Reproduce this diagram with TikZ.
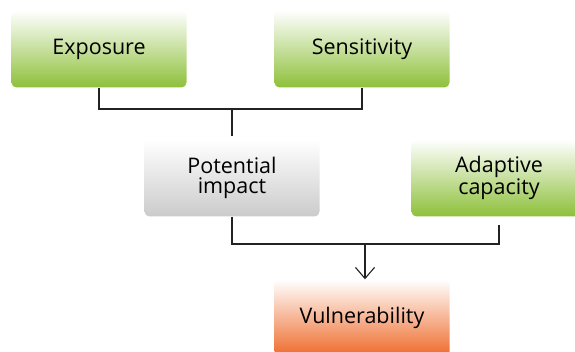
\documentclass[tikz,border=0pt]{standalone}
\usepackage{fontspec}
\setmainfont{Open Sans}
\usepackage{tikz}
\usetikzlibrary{arrows.meta, positioning}

\definecolor{leafgreen}{HTML}{8DC03A}
\definecolor{mistgray}{HTML}{CBCBCB}
\definecolor{riskorange}{HTML}{EE6A2A}
\definecolor{wirecol}{HTML}{222222}

\tikzset{
    factor/.style={rectangle, rounded corners=5pt, minimum width=175pt, minimum height=77pt,
        inner sep=0pt, align=center, text=black, font=\fontsize{21.5}{19.5}\selectfont},
    greenfactor/.style={factor, top color=white, bottom color=leafgreen},
    grayfactor/.style={factor, top color=white, bottom color=mistgray},
    orangefactor/.style={factor, top color=white, bottom color=riskorange},
    wire/.style={draw=wirecol, line width=1.1pt}
}

\begin{document}
\begin{tikzpicture}[x=1pt, y=-1pt]
            \useasboundingbox (0, 0) rectangle (575, 352);
            \clip (0, 0) rectangle (575, 352);

            \node [greenfactor] (expo) at (99, 49) {Exposure};
            \node [greenfactor] (sens) at (362, 49) {Sensitivity};
            \node [grayfactor] (impact) at (232, 178) {Potential\\impact};
            \node [greenfactor] (adapt) at (499, 178) {Adaptive\\capacity};
            \node [orangefactor] (vuln) at (362, 318) {Vulnerability};

            \coordinate (join) at (232, 109);
            \coordinate (merge) at (365, 244);

            \draw [wire] (expo.south) |- (join) -| (sens.south);
            \draw [wire, shorten >=3pt] (join) -- (impact.north);
            \draw [wire] (impact.south) |- (merge);
            \draw [wire, shorten >=8pt] (merge) -| (adapt.south);
            \draw [wire, -{Straight Barb[length=11pt, width=19pt]}] (merge) -- (merge |- vuln.north);
        \end{tikzpicture}
\end{document}
